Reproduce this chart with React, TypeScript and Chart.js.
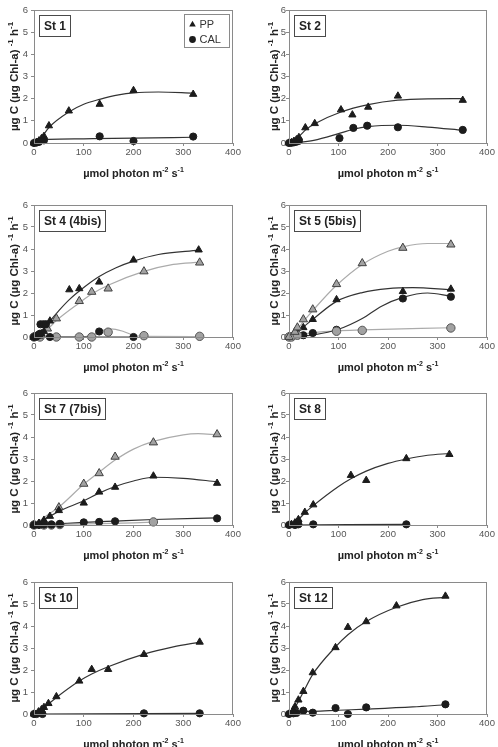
import { useEffect, useRef } from "react";
import { Chart, registerables } from "chart.js";

Chart.register(...registerables);

type P = [number, number];

// Axis ticks
const xTicks = [0, 100, 200, 300, 400];
const yTicks = [0, 1, 2, 3, 4, 5, 6];

// St 1
const st1PP: P[] = [[0, 0], [5, 0.03], [10, 0.1], [15, 0.2], [20, 0.3], [30, 0.78], [70, 1.45], [132, 1.75], [200, 2.37], [320, 2.2]];
const st1CAL: P[] = [[0, 0], [5, 0.02], [10, 0.05], [20, 0.12], [132, 0.3], [200, 0.09], [320, 0.29]];
const st1PPFit: P[] = [[0, 0], [15, 0.25], [30, 0.7], [70, 1.4], [100, 1.75], [132, 1.97], [170, 2.17], [200, 2.26], [250, 2.3], [320, 2.25]];
const st1CALFit: P[] = [[0, 0], [15, 0.12], [30, 0.16], [100, 0.19], [200, 0.22], [320, 0.26]];

// St 2
const st2PP: P[] = [[0, 0], [5, 0.02], [10, 0.08], [15, 0.15], [20, 0.25], [33, 0.69], [52, 0.88], [105, 1.5], [128, 1.27], [160, 1.62], [220, 2.12], [351, 1.93]];
const st2CAL: P[] = [[0, 0], [5, 0.01], [10, 0.03], [15, 0.06], [20, 0.1], [102, 0.22], [130, 0.68], [158, 0.78], [220, 0.71], [351, 0.59]];
const st2PPFit: P[] = [[0, 0], [20, 0.3], [35, 0.62], [52, 0.87], [105, 1.4], [160, 1.73], [220, 1.93], [280, 1.99], [351, 2.0]];
const st2CALFit: P[] = [[0, 0], [20, 0.03], [50, 0.12], [100, 0.42], [130, 0.62], [160, 0.74], [220, 0.8], [280, 0.72], [351, 0.57]];

// St 4 and 4bis
const st4PP: P[] = [[0, 0], [5, 0.03], [10, 0.08], [15, 0.15], [20, 0.25], [32, 0.73], [71, 2.15], [91, 2.2], [131, 2.5], [200, 3.5], [331, 3.96]];
const st4CAL: P[] = [[0, 0], [5, 0.02], [9, 0.1], [12, 0.15], [13, 0.58], [19, 0.58], [24, 0.58], [32, 0], [131, 0.25], [200, 0]];
const st4bisPP: P[] = [[0, 0], [10, 0.05], [27, 0.38], [45, 0.84], [91, 1.63], [116, 2.05], [149, 2.2], [221, 2.98], [333, 3.38]];
const st4bisCAL: P[] = [[0, 0], [12, 0], [45, 0], [91, 0], [116, 0], [149, 0.22], [221, 0.06], [333, 0.03]];
const st4PPFit: P[] = [[0, 0], [20, 0.3], [35, 0.8], [50, 1.2], [71, 1.7], [100, 2.25], [131, 2.75], [165, 3.15], [200, 3.45], [250, 3.75], [331, 3.95]];
const st4CALFit: P[] = [[0, 0], [200, 0]];
const st4bisPPFit: P[] = [[0, 0], [27, 0.35], [45, 0.75], [91, 1.55], [116, 1.95], [149, 2.35], [221, 2.98], [280, 3.3], [333, 3.4]];
const st4bisCALFit: P[] = [[0, 0], [91, 0], [116, 0.08], [135, 0.28], [155, 0.37], [180, 0.25], [200, 0.08], [221, 0.03], [333, 0.02]];

// St 5 and 5bis
const st5PP: P[] = [[0, 0], [5, 0.03], [10, 0.1], [17, 0.2], [29, 0.43], [48, 0.8], [96, 1.7], [230, 2.07], [327, 2.18]];
const st5CAL: P[] = [[0, 0], [5, 0.02], [12, 0.1], [29, 0.08], [48, 0.18], [96, 0.33], [230, 1.75], [327, 1.83]];
const st5bisPP: P[] = [[0, 0], [12, 0.23], [17, 0.43], [29, 0.8], [48, 1.25], [96, 2.4], [148, 3.35], [230, 4.05], [327, 4.2]];
const st5bisCAL: P[] = [[0, 0], [5, 0], [17, 0.08], [96, 0.26], [148, 0.3], [327, 0.41]];
const st5PPFit: P[] = [[0, 0], [17, 0.2], [29, 0.45], [48, 0.8], [96, 1.62], [148, 2.02], [200, 2.2], [250, 2.24], [327, 2.15]];
const st5CALFit: P[] = [[0, 0], [50, 0.1], [100, 0.35], [148, 0.84], [187, 1.4], [230, 1.8], [280, 2.0], [327, 1.85]];
const st5bisPPFit: P[] = [[0, 0], [17, 0.35], [29, 0.7], [48, 1.2], [96, 2.35], [148, 3.3], [200, 3.9], [230, 4.1], [280, 4.25], [327, 4.25]];
const st5bisCALFit: P[] = [[0, 0], [20, 0.1], [50, 0.2], [96, 0.28], [148, 0.32], [327, 0.42]];

// St 7 and 7bis
const st7PP: P[] = [[0, 0], [10, 0.08], [20, 0.22], [32, 0.4], [50, 0.66], [100, 1.0], [131, 1.5], [163, 1.72], [240, 2.23], [368, 1.9]];
const st7CAL: P[] = [[0, 0], [10, 0], [20, 0.02], [35, 0.02], [52, 0.05], [100, 0.12], [131, 0.14], [163, 0.17], [368, 0.3]];
const st7bisPP: P[] = [[0, 0], [10, 0.05], [20, 0.15], [50, 0.8], [100, 1.87], [131, 2.35], [163, 3.1], [240, 3.75], [368, 4.12]];
const st7bisCAL: P[] = [[0, 0], [20, 0], [35, 0], [52, 0.02], [240, 0.14]];
const st7PPFit: P[] = [[0, 0], [32, 0.4], [52, 0.64], [100, 1.1], [131, 1.45], [163, 1.75], [200, 2.0], [240, 2.17], [300, 2.12], [368, 1.97]];
const st7CALFit: P[] = [[0, 0], [50, 0.06], [100, 0.12], [163, 0.18], [240, 0.25], [368, 0.32]];
const st7bisPPFit: P[] = [[0, 0], [30, 0.5], [52, 0.85], [100, 1.85], [131, 2.4], [163, 2.95], [200, 3.45], [240, 3.8], [300, 4.1], [330, 4.15], [368, 4.1]];
const st7bisCALFit: P[] = [[0, 0], [100, 0.05], [200, 0.1], [240, 0.13]];

// St 8
const st8PP: P[] = [[0, 0], [5, 0.03], [12, 0.1], [19, 0.25], [32, 0.58], [49, 0.92], [125, 2.26], [156, 2.03], [237, 3.02], [324, 3.21]];
const st8CAL: P[] = [[0, 0], [12, 0], [19, 0.03], [49, 0.03], [237, 0.03]];
const st8PPFit: P[] = [[0, 0], [19, 0.25], [32, 0.55], [49, 0.88], [100, 1.75], [125, 2.1], [156, 2.45], [200, 2.8], [237, 3.0], [280, 3.17], [324, 3.25]];
const st8CALFit: P[] = [[0, 0], [237, 0.03]];

// St 10
const st10PP: P[] = [[0, 0], [9, 0.1], [15, 0.2], [20, 0.3], [29, 0.48], [45, 0.79], [91, 1.5], [116, 2.03], [149, 2.03], [221, 2.71], [333, 3.27]];
const st10CAL: P[] = [[0, 0], [5, 0], [17, 0], [221, 0.03], [333, 0.03]];
const st10PPFit: P[] = [[0, 0], [15, 0.17], [29, 0.45], [45, 0.75], [91, 1.5], [116, 1.82], [149, 2.15], [221, 2.72], [280, 3.05], [333, 3.27]];
const st10CALFit: P[] = [[0, 0], [333, 0.03]];

// St 12
const st12PP: P[] = [[0, 0], [9, 0.18], [12, 0.33], [19, 0.64], [29, 1.03], [48, 1.88], [94, 3.02], [119, 3.94], [156, 4.2], [217, 4.92], [316, 5.36]];
const st12CAL: P[] = [[0, 0], [9, 0.03], [15, 0.05], [29, 0.15], [48, 0.06], [94, 0.27], [119, 0], [156, 0.3], [316, 0.44]];
const st12PPFit: P[] = [[0, 0], [12, 0.3], [29, 1.0], [48, 1.8], [94, 3.05], [119, 3.6], [156, 4.2], [217, 4.85], [270, 5.2], [316, 5.3]];
const st12CALFit: P[] = [[0, 0], [20, 0.1], [50, 0.12], [100, 0.17], [156, 0.22], [250, 0.32], [316, 0.42]];

type Kind = "pp" | "cal" | "ppBis" | "calBis";
type FitKind = "dark" | "light";

interface PanelDef {
  label: string;
  row: number;
  col: number;
  legend?: boolean;
  points: { data: P[]; kind: Kind }[];
  fits: { data: P[]; kind: FitKind }[];
}

const panels: PanelDef[] = [
  {
    label: "St 1", row: 0, col: 0, legend: true,
    points: [{ data: st1PP, kind: "pp" }, { data: st1CAL, kind: "cal" }],
    fits: [{ data: st1PPFit, kind: "dark" }, { data: st1CALFit, kind: "dark" }],
  },
  {
    label: "St 2", row: 0, col: 1,
    points: [{ data: st2PP, kind: "pp" }, { data: st2CAL, kind: "cal" }],
    fits: [{ data: st2PPFit, kind: "dark" }, { data: st2CALFit, kind: "dark" }],
  },
  {
    label: "St 4 (4bis)", row: 1, col: 0,
    points: [
      { data: st4PP, kind: "pp" }, { data: st4CAL, kind: "cal" },
      { data: st4bisPP, kind: "ppBis" }, { data: st4bisCAL, kind: "calBis" },
    ],
    fits: [
      { data: st4PPFit, kind: "dark" }, { data: st4CALFit, kind: "dark" },
      { data: st4bisPPFit, kind: "light" }, { data: st4bisCALFit, kind: "light" },
    ],
  },
  {
    label: "St 5 (5bis)", row: 1, col: 1,
    points: [
      { data: st5bisPP, kind: "ppBis" }, { data: st5bisCAL, kind: "calBis" },
      { data: st5PP, kind: "pp" }, { data: st5CAL, kind: "cal" },
    ],
    fits: [
      { data: st5PPFit, kind: "dark" }, { data: st5CALFit, kind: "dark" },
      { data: st5bisPPFit, kind: "light" }, { data: st5bisCALFit, kind: "light" },
    ],
  },
  {
    label: "St 7 (7bis)", row: 2, col: 0,
    points: [
      { data: st7PP, kind: "pp" }, { data: st7CAL, kind: "cal" },
      { data: st7bisPP, kind: "ppBis" }, { data: st7bisCAL, kind: "calBis" },
    ],
    fits: [
      { data: st7PPFit, kind: "dark" }, { data: st7CALFit, kind: "dark" },
      { data: st7bisPPFit, kind: "light" }, { data: st7bisCALFit, kind: "light" },
    ],
  },
  {
    label: "St 8", row: 2, col: 1,
    points: [{ data: st8PP, kind: "pp" }, { data: st8CAL, kind: "cal" }],
    fits: [{ data: st8PPFit, kind: "dark" }, { data: st8CALFit, kind: "dark" }],
  },
  {
    label: "St 10", row: 3, col: 0,
    points: [{ data: st10PP, kind: "pp" }, { data: st10CAL, kind: "cal" }],
    fits: [{ data: st10PPFit, kind: "dark" }, { data: st10CALFit, kind: "dark" }],
  },
  {
    label: "St 12", row: 3, col: 1,
    points: [{ data: st12PP, kind: "pp" }, { data: st12CAL, kind: "cal" }],
    fits: [{ data: st12PPFit, kind: "dark" }, { data: st12CALFit, kind: "dark" }],
  },
];

// Grid geometry (page pixels)
const CANVAS_W = 249;
const CANVAS_H = 190;
const PAD_TOP = 10;
const plotTops = [10, 205, 393, 582];
const plotBottoms = [143, 337, 525, 714];
const colLeft = [0, 249];
const yAxisWidth = [34, 40];
const padRight = [16, 11];
const yTickPad = [3, 0];
const yTitleOffset = [20, 15];

const FONT = "'Liberation Sans', Arial, Helvetica, sans-serif";
const FRAME = "#8a8a8a";
const TEXT = "#222";

const markerStyle: Record<Kind, any> = {
  pp: { pointStyle: "triangle", pointRadius: 4.2, backgroundColor: "#1c1c1c", borderColor: "#1c1c1c", pointBorderWidth: 1 },
  cal: { pointStyle: "circle", pointRadius: 3.6, backgroundColor: "#1c1c1c", borderColor: "#1c1c1c", pointBorderWidth: 1 },
  ppBis: { pointStyle: "triangle", pointRadius: 4.8, backgroundColor: "#a2a2a2", borderColor: "#404040", pointBorderWidth: 1 },
  calBis: { pointStyle: "circle", pointRadius: 4.2, backgroundColor: "#a2a2a2", borderColor: "#555555", pointBorderWidth: 1 },
};

const fitStyle: Record<FitKind, any> = {
  dark: { borderColor: "#333333", borderWidth: 1.2 },
  light: { borderColor: "#ababab", borderWidth: 1.2 },
};

type Seg = [string, boolean];

function drawRich(ctx: CanvasRenderingContext2D, parts: Seg[], cx: number, cy: number, size: number, rotate: boolean) {
  const base = `bold ${size}px ${FONT}`;
  const sup = `bold ${Math.round(size * 0.68)}px ${FONT}`;
  const widths = parts.map(([t, s]) => {
    ctx.font = s ? sup : base;
    return ctx.measureText(t).width;
  });
  const total = widths.reduce((a, b) => a + b, 0);
  ctx.save();
  ctx.translate(cx, cy);
  if (rotate) ctx.rotate(-Math.PI / 2);
  ctx.fillStyle = TEXT;
  ctx.textBaseline = "alphabetic";
  ctx.textAlign = "left";
  let x = -total / 2;
  parts.forEach(([t, s], i) => {
    ctx.font = s ? sup : base;
    ctx.fillText(t, x, s ? size * 0.36 - size * 0.42 : size * 0.36);
    x += widths[i];
  });
  ctx.restore();
}

const xTitle: Seg[] = [["µmol photon m", false], ["-2", true], [" s", false], ["-1", true]];
const yTitle: Seg[] = [["µg C (µg Chl-a) ", false], ["-1", true], [" h", false], ["-1", true]];

function Panel({ def }: { def: PanelDef }) {
  const ref = useRef<HTMLCanvasElement>(null);
  const { row, col } = def;
  const top = plotTops[row] - PAD_TOP;
  const xAxisHeight = CANVAS_H - PAD_TOP - (plotBottoms[row] - plotTops[row]);

  useEffect(() => {
    if (!ref.current) return;

    const decor = {
      id: "decor",
      afterDraw(chart: any) {
        const ctx: CanvasRenderingContext2D = chart.ctx;
        const a = chart.chartArea;
        ctx.save();
        // frame
        ctx.strokeStyle = FRAME;
        ctx.lineWidth = 1;
        ctx.strokeRect(Math.round(a.left) + 0.5, Math.round(a.top) + 0.5, Math.round(a.right - a.left) - 1, Math.round(a.bottom - a.top));

        // station label box
        ctx.font = `bold 12px ${FONT}`;
        const tw = ctx.measureText(def.label).width;
        const bx = Math.round(a.left + 5) + 0.5;
        const by = Math.round(a.top + 5) + 0.5;
        const bw = Math.round(tw + 9);
        const bh = 21;
        ctx.fillStyle = "#fff";
        ctx.fillRect(bx, by, bw, bh);
        ctx.strokeStyle = "#4a4a4a";
        ctx.strokeRect(bx, by, bw, bh);
        ctx.fillStyle = TEXT;
        ctx.textBaseline = "middle";
        ctx.textAlign = "left";
        ctx.fillText(def.label, bx + 4.5, by + bh / 2 + 0.5);

        // legend
        if (def.legend) {
          const lw = 45, lh = 33;
          const lx = Math.round(a.right - 4 - lw) + 0.5;
          const ly = Math.round(a.top + 4) + 0.5;
          ctx.fillStyle = "#fff";
          ctx.fillRect(lx, ly, lw, lh);
          ctx.strokeStyle = "#8a8a8a";
          ctx.strokeRect(lx, ly, lw, lh);
          ctx.fillStyle = "#1c1c1c";
          const mx = lx + 8;
          // triangle
          const r = 3.8;
          const ty = ly + 10;
          ctx.beginPath();
          ctx.moveTo(mx, ty - r);
          ctx.lineTo(mx + r * 0.866, ty + r * 0.5);
          ctx.lineTo(mx - r * 0.866, ty + r * 0.5);
          ctx.closePath();
          ctx.fill();
          // circle
          ctx.beginPath();
          ctx.arc(mx, ly + 25, 3.4, 0, Math.PI * 2);
          ctx.fill();
          ctx.fillStyle = "#333";
          ctx.font = `11px ${FONT}`;
          ctx.textBaseline = "middle";
          ctx.fillText("PP", lx + 15, ly + 10);
          ctx.fillText("CAL", lx + 15, ly + 25);
        }

        // axis titles
        drawRich(ctx, xTitle, (a.left + a.right) / 2, a.bottom + 30, 11, false);
        drawRich(ctx, yTitle, a.left - yTitleOffset[col], (a.top + a.bottom) / 2, 11.5, true);
        ctx.restore();
      },
    };

    const datasets: any[] = [];
    def.points.forEach((p) => {
      datasets.push({
        data: p.data.map(([x, y]) => ({ x, y })),
        showLine: false,
        clip: false,
        order: 1,
        ...markerStyle[p.kind],
      });
    });
    def.fits.forEach((f) => {
      datasets.push({
        data: f.data.map(([x, y]) => ({ x, y })),
        showLine: true,
        pointRadius: 0,
        cubicInterpolationMode: "monotone",
        clip: false,
        order: 2,
        ...fitStyle[f.kind],
      });
    });

    const tickFont = { family: FONT, size: 9.5 };
    const chart = new Chart(ref.current, {
      type: "scatter",
      data: { datasets },
      options: {
        animation: false,
        responsive: false,
        maintainAspectRatio: false,
        events: [],
        layout: { padding: { top: PAD_TOP, right: padRight[col], bottom: 0, left: 0 } },
        plugins: { legend: { display: false }, tooltip: { enabled: false } },
        scales: {
          x: {
            type: "linear",
            min: xTicks[0],
            max: xTicks[xTicks.length - 1],
            afterBuildTicks: (s: any) => { s.ticks = xTicks.map((v) => ({ value: v })); },
            afterFit: (s: any) => { s.height = xAxisHeight; },
            ticks: { color: "#555", font: tickFont, padding: 1, maxRotation: 0 },
            grid: { drawOnChartArea: false, drawTicks: true, tickLength: 3, color: FRAME },
            border: { display: true, color: FRAME },
          },
          y: {
            type: "linear",
            min: yTicks[0],
            max: yTicks[yTicks.length - 1],
            afterBuildTicks: (s: any) => { s.ticks = yTicks.map((v) => ({ value: v })); },
            afterFit: (s: any) => { s.width = yAxisWidth[col]; },
            ticks: { color: "#555", font: tickFont, padding: yTickPad[col] },
            grid: { drawOnChartArea: false, drawTicks: true, tickLength: 3, color: FRAME },
            border: { display: true, color: FRAME },
          },
        },
      } as any,
      plugins: [decor],
    });
    return () => chart.destroy();
  }, []);

  return (
    <canvas
      ref={ref}
      width={CANVAS_W}
      height={CANVAS_H}
      style={{ position: "absolute", left: colLeft[col], top, width: CANVAS_W, height: CANVAS_H }}
    />
  );
}

export default function App() {
  return (
    <div style={{ position: "absolute", left: 0, top: 0, width: 498, height: 747, overflow: "hidden", background: "#fff" }}>
      {panels.map((p) => (
        <Panel key={p.label} def={p} />
      ))}
    </div>
  );
}
